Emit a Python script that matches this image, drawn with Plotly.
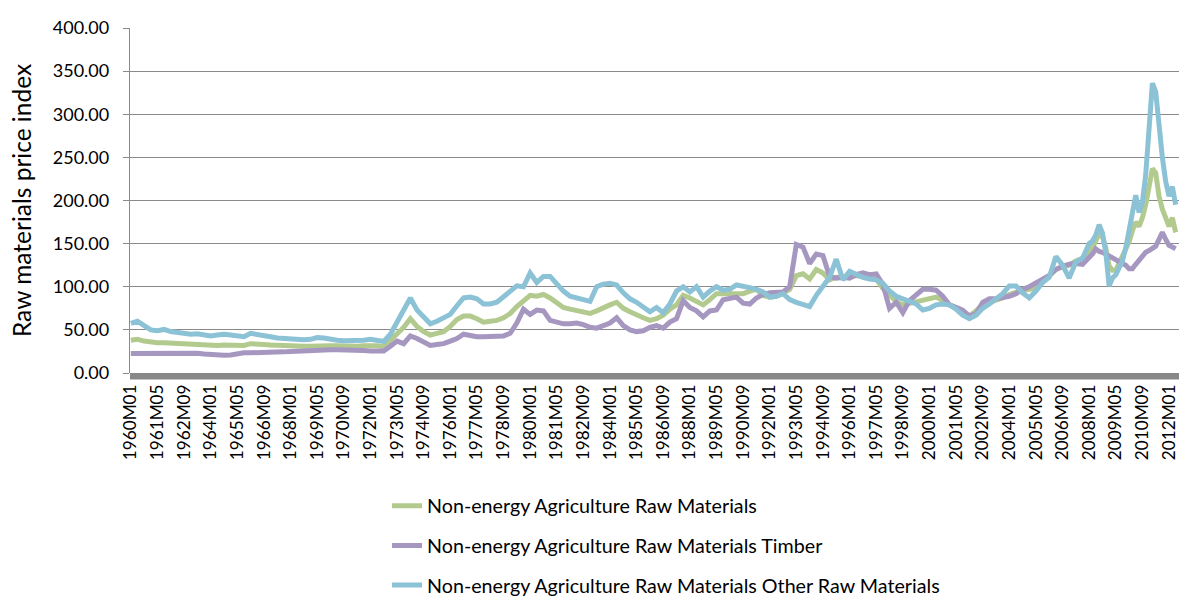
import plotly.graph_objects as go

# ---------------- data ----------------
# Sampling: every 4 months (M01, M05, M09) from 1960 to 2007,
# every 2 months from 2008M01 to 2011M11, then 2012M01, M03, M05.
sample_years_4m = list(range(1960, 2008))
sample_months_4m = [1, 5, 9]
sample_years_2m = list(range(2008, 2012))
sample_months_2m = [1, 3, 5, 7, 9, 11]
sample_tail = [(2012, 1), (2012, 3), (2012, 5)]

agri_raw = [
    38, 39, 37,  35.5, 35, 35,  34.5, 34, 34,  33.5, 33, 33,            # 1960-63
    32, 32, 32.5,  32.5, 32, 32,  34, 34, 33,  32.5, 32, 31.5,          # 1964-67
    31, 31, 31,  31, 31.5, 31.5,  31.5, 31.5, 31,  31, 31, 31.5,        # 1968-71
    32, 31.5, 30.5,  38, 45, 53,  63, 54, 48,  44, 46, 48,              # 1972-75
    54, 62, 66,  66, 63, 59,  60, 61, 64,  69, 77, 83,                  # 1976-79
    90, 89, 91,  87, 81, 76,  74, 72, 71,  69, 72, 76,                  # 1980-83
    79, 82, 75,  71, 67, 64,  61, 63, 67,  74, 79, 90,                  # 1984-87
    87, 83, 79,  85, 92, 92,  92, 92, 92,  95, 97, 90,                  # 1988-91
    88, 89, 93,  97, 113, 115,  109, 120, 116,  108, 111, 111,          # 1992-95
    112, 113, 112,  111, 109, 98,  90, 83, 79,  81, 83, 85,             # 1996-99
    86, 88, 84,  80, 75, 70,  66, 72, 79,  82, 84, 87,                  # 2000-03
    91, 94, 96,  97, 98, 105,  112, 120, 123,  125, 130, 133,           # 2004-07
    138, 146, 152, 161, 158, 145,                                       # 2008
    124, 119, 119, 127, 135, 143,                                       # 2009
    152, 165, 175, 170, 180, 195,                                       # 2010
    218, 237, 232, 205, 190, 180,                                       # 2011
    170, 180, 163,                                                      # 2012
]

agri_timber = [
    22.5, 22.5, 22.5,  22.5, 22.5, 22.5,  23, 23, 23,  23.5, 23, 22,    # 1960-63
    21.5, 20.5, 20.5,  21, 22.5, 23.5,  23.5, 23.5, 23.5,  23.5, 24, 24.5,  # 1964-67
    25, 25.5, 25.5,  26, 26.5, 26.5,  27, 27, 27,  26.5, 26, 26,        # 1968-71
    25.5, 25, 25.5,  31, 37, 34,  43, 40, 36,  32, 33, 34,              # 1972-75
    37, 40, 45,  43, 42, 42,  42, 43, 43,  46, 58, 74,                  # 1976-79
    68, 73, 72,  61, 59, 57,  57, 58, 56,  53, 52, 55,                  # 1980-83
    58, 64, 55,  50, 48, 49,  53, 55, 52,  59, 63, 84,                  # 1984-87
    76, 72, 65,  72, 73, 85,  86, 88, 81,  80, 87, 91,                  # 1988-91
    93, 94, 94,  100, 149, 146,  127, 138, 136,  112, 110, 111,         # 1992-95
    110, 114, 116,  114, 115, 103,  75, 82, 70,  84, 91, 97,            # 1996-99
    97, 96, 89,  79, 76, 73,  66, 69, 82,  86, 86, 87,                  # 2000-03
    89, 92, 97,  100, 104, 109,  113, 120, 124,  126, 127, 126,         # 2004-07
    133, 138, 144, 141, 140, 138,                                       # 2008
    135, 133, 131, 129, 128, 125,                                       # 2009
    121, 121, 126, 131, 136, 140,                                       # 2010
    142, 144.5, 147, 155, 163, 155,                                     # 2011
    148, 146, 144,                                                      # 2012
]

agri_other = [
    57.5, 60, 55,  50, 49, 50.5,  48, 47, 46,  45, 45.5, 44,            # 1960-63
    43, 44, 45,  44, 42.5, 42,  46, 45, 43,  42, 40.5, 40,              # 1964-67
    39, 38.5, 38.5,  39, 41, 40.5,  38.5, 38, 37.5,  37.5, 37, 38,      # 1968-71
    39, 38, 36.5,  45, 60, 75,  87, 73, 65,  57, 60, 64,                # 1972-75
    68, 78, 87,  88, 86, 80,  80, 82, 88,  94, 101, 100,                # 1976-79
    116, 105, 112,  112, 103, 95,  89, 87, 86,  83, 100, 103,           # 1980-83
    104, 102, 93,  86, 82, 77,  71, 76, 70,  80, 95, 100,               # 1984-87
    94, 100, 88,  95, 100, 96,  97, 102, 101,  99, 97, 94,              # 1988-91
    88, 89, 92,  85, 82, 79,  77, 90, 101,  111, 132, 108,              # 1992-95
    118, 114, 111,  109, 108, 104,  95, 89, 86,  84, 80, 73,            # 1996-99
    75, 79, 80,  79, 74, 67,  63, 67, 75,  80, 86, 92,                  # 2000-03
    101, 101, 93,  87, 95, 105,  111, 135, 125,  110, 129, 133,         # 2004-07
    150, 153, 160, 172, 162, 140,                                       # 2008
    101, 110, 114, 122, 130, 145,                                       # 2009
    168, 188, 206, 186, 198, 230,                                       # 2010
    285, 336, 326, 285, 250, 222,                                       # 2011
    205, 216, 195,                                                      # 2012
]

tick_labels = [
    "1960M01", "1961M05", "1962M09", "1964M01", "1965M05", "1966M09",
    "1968M01", "1969M05", "1970M09", "1972M01", "1973M05", "1974M09",
    "1976M01", "1977M05", "1978M09", "1980M01", "1981M05", "1982M09",
    "1984M01", "1985M05", "1986M09", "1988M01", "1989M05", "1990M09",
    "1992M01", "1993M05", "1994M09", "1996M01", "1997M05", "1998M09",
    "2000M01", "2001M05", "2002M09", "2004M01", "2005M05", "2006M09",
    "2008M01", "2009M05", "2010M09", "2012M01",
]

series_names = [
    "Non-energy Agriculture Raw Materials",
    "Non-energy Agriculture Raw Materials Timber",
    "Non-energy Agriculture Raw Materials Other Raw Materials",
]
series_colors = ["#B3CA8E", "#A697C1", "#8CC2D6"]

# ---------------- month positions (category index from 1960M01) ----------------
def label_to_index(lbl):
    return (int(lbl[:4]) - 1960) * 12 + int(lbl[5:]) - 1

sample_labels = []
for y in sample_years_4m:
    for m in sample_months_4m:
        sample_labels.append(f"{y}M{m:02d}")
for y in sample_years_2m:
    for m in sample_months_2m:
        sample_labels.append(f"{y}M{m:02d}")
for y, m in sample_tail:
    sample_labels.append(f"{y}M{m:02d}")
x_idx = [label_to_index(l) for l in sample_labels]
n_categories = label_to_index("2012M05") + 1

fig = go.Figure()
for name, vals, col in zip(series_names, [agri_raw, agri_timber, agri_other], series_colors):
    fig.add_trace(go.Scatter(
        x=x_idx, y=vals, mode="lines", name=name,
        legendgroup=name, text=sample_labels,
        line=dict(color=col, width=5, shape="linear"),
        hovertemplate="%{text}: %{y:.2f}<extra>" + name + "</extra>",
    ))

FONT = "Lato, 'Open Sans', sans-serif"
fig.update_layout(
    width=1179, height=597,
    margin=dict(l=130, r=0, t=28, b=224, autoexpand=False),
    paper_bgcolor="white", plot_bgcolor="white",
    font=dict(family=FONT, color="#000000", size=17),
    showlegend=True,
    legend=dict(
        x=0.245, y=-0.329, xanchor="left", yanchor="top",
        orientation="v", font=dict(size=19.7, family=FONT),
        tracegroupgap=11, bgcolor="rgba(0,0,0,0)",
    ),
    xaxis=dict(
        range=[-0.5, n_categories + 1.0],
        tickmode="array",
        tickvals=[label_to_index(t) for t in tick_labels],
        ticktext=tick_labels,
        tickangle=-90, ticks="", showgrid=False, zeroline=False,
        showline=False, ticklabelstandoff=7, ticklabeloverflow="allow",
        automargin=False,
        tickfont=dict(size=17.2, family=FONT),
    ),
    yaxis=dict(
        range=[0, 400], dtick=50, tickformat=".2f",
        showgrid=True, gridcolor="#8A8A8A", gridwidth=1.3,
        zeroline=False, showline=True, linecolor="#8A8A8A", linewidth=1.3,
        ticks="outside", ticklen=6, tickcolor="#8A8A8A", tickwidth=1.3,
        ticklabelstandoff=10, automargin=False,
        tickfont=dict(size=18, family=FONT),
        title=dict(text="Raw materials price index", standoff=14,
                   font=dict(size=24.5, family=FONT)),
    ),
    shapes=[dict(type="rect", xref="paper", yref="paper",
                 x0=0, x1=1, y0=-0.019, y1=0,
                 fillcolor="#888888", line=dict(width=0), layer="above")],
)

fig.write_html(
    "out.html",
    config={"displayModeBar": False},
    post_script="document.body.style.margin='0px';document.body.style.overflow='hidden';",
)
